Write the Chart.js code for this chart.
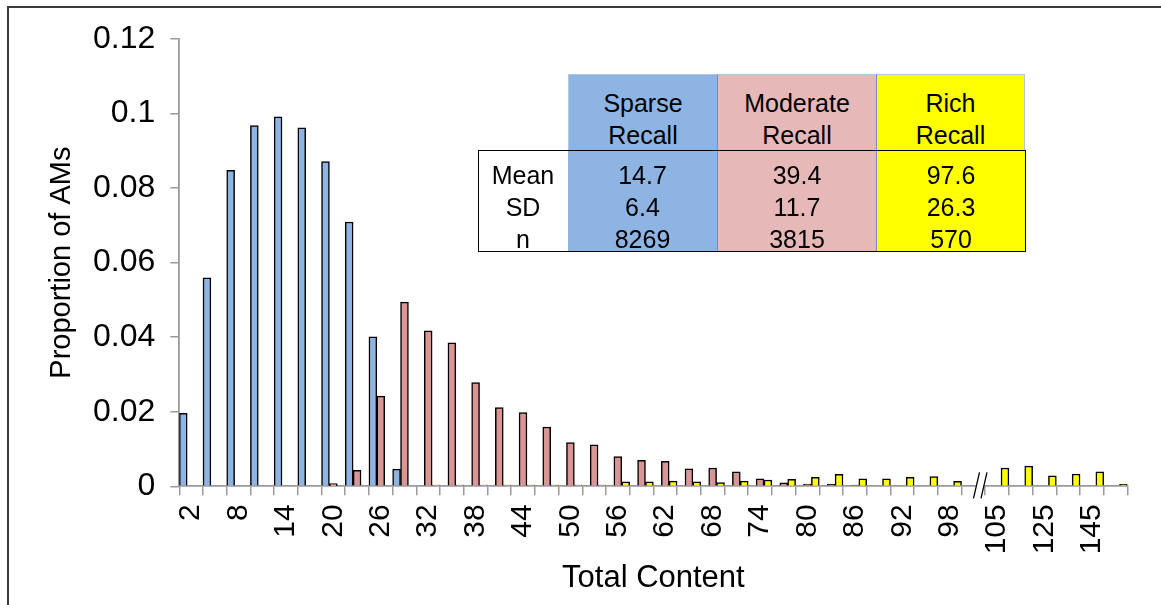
<!DOCTYPE html>
<html>
<head>
<meta charset="utf-8">
<script src="https://cdn.jsdelivr.net/npm/chart.js@4"></script>
<style>
  html, body { margin: 0; padding: 0; background: #fff; }
  #wrap { position: relative; width: 1161px; height: 605px; overflow: hidden; font-family: "Liberation Sans", Arial, sans-serif; }
  #frame { position: absolute; left: 7px; top: 6px; width: 1300px; height: 700px; border-left: 2px solid #3a3a3a; border-top: 2px solid #3a3a3a; box-sizing: border-box; pointer-events: none; }
  #cv { position: absolute; left: 0; top: 0; }
  .cell { position: absolute; box-sizing: border-box; text-align: center; font-size: 25px; line-height: 32px; color: #000; }
  .hdr { top: 74px; height: 77px; padding-top: 12px; border-top: 1px solid #b5c5dc; }
  .dat { top: 151px; height: 100px; padding-top: 8px; }
  .blue { background: #8db4e2; }
  .pink { background: #e6b9b8; }
  .yel { background: #ffff00; }
  .div { border-left: 1px solid #6f8fc4; }
  #box { position: absolute; left: 478px; top: 150px; width: 548px; height: 102px; border: 1.5px solid #000; box-sizing: border-box; pointer-events: none; }
</style>
</head>
<body>
<div id="wrap">
  <canvas id="cv" width="1161" height="605"></canvas>
  <div id="tbl"></div>
  <div id="box"></div>
  <div id="frame"></div>
</div>
<script>
// ---- data ----
const categories = ['2','5','8','11','14','17','20','23','26','29','32','35','38','41','44','47','50','53','56','59','62','65','68','71','74','77','80','83','86','89','92','95','98','101','105','115','125','135','145','155'];
const sparse = [0.0196,0.0559,0.0848,0.0968,0.0991,0.0962,0.0871,0.0709,0.0401,0.0046,null,null,null,null,null,null,null,null,null,null,null,null,null,null,null,null,null,null,null,null,null,null,null,null,null,null,null,null,null,null];
const moderate = [null,null,null,null,null,null,0.0007,0.0043,0.0242,0.0494,0.0417,0.0385,0.0278,0.0211,0.0198,0.0159,0.0117,0.0111,0.0080,0.0070,0.0067,0.0047,0.0049,0.0039,0.0020,0.0009,0.0006,0.0005,0.0003,null,null,null,null,null,null,null,null,null,null,null];
const rich = [null,null,null,null,null,null,null,null,null,null,0.0003,0.0003,0.0003,0.0003,0.0003,0.0003,0.0003,0.0003,0.0012,0.0012,0.0014,0.0012,0.0010,0.0014,0.0017,0.0019,0.0024,0.0032,0.0020,0.0020,0.0024,0.0026,0.0013,null,0.0049,0.0054,0.0028,0.0033,0.0039,0.0005];
const yTicks = [0, 0.02, 0.04, 0.06, 0.08, 0.1, 0.12];
const seriesNames = ['Sparse Recall', 'Moderate Recall', 'Rich Recall'];
const statRows = ['Mean', 'SD', 'n'];
const statSparse = ['14.7', '6.4', '8269'];
const statModerate = ['39.4', '11.7', '3815'];
const statRich = ['97.6', '26.3', '570'];
const breakAfterIndex = 33;

// ---- table ----
(function buildTable() {
  const t = document.getElementById('tbl');
  const cols = [
    {cls: 'blue', left: 568, width: 149, name: seriesNames[0], vals: statSparse},
    {cls: 'pink div', left: 717, width: 159, name: seriesNames[1], vals: statModerate},
    {cls: 'yel div', left: 876, width: 149, name: seriesNames[2], vals: statRich}
  ];
  cols.forEach((c, i) => {
    const h = document.createElement('div');
    h.className = 'cell hdr ' + c.cls;
    h.style.left = c.left + 'px'; h.style.width = c.width + 'px';
    if (i === 0) h.style.borderLeft = '1px solid #b5c5dc';
    if (i === 2) h.style.borderRight = '1px solid #b5c5dc';
    h.innerHTML = c.name.split(' ').join('<br>');
    t.appendChild(h);
    const d = document.createElement('div');
    d.className = 'cell dat ' + c.cls;
    d.style.left = c.left + 'px'; d.style.width = c.width + 'px';
    d.innerHTML = c.vals.join('<br>');
    t.appendChild(d);
  });
  const l = document.createElement('div');
  l.className = 'cell dat';
  l.style.left = '478px'; l.style.width = '90px'; l.style.background = '#fff';
  l.innerHTML = statRows.join('<br>');
  t.appendChild(l);
})();

// ---- chart ----
const FONT = '"Liberation Sans", Arial, sans-serif';
const breakPlugin = {
  id: 'axisBreak',
  afterDraw(chart) {
    const xs = chart.scales.x;
    const w = xs.getPixelForValue(1) - xs.getPixelForValue(0);
    const cx = xs.getPixelForValue(breakAfterIndex) + 0.3 * w;
    const y0 = chart.chartArea.bottom;
    const ctx = chart.ctx;
    ctx.save();
    ctx.fillStyle = '#fff';
    ctx.beginPath();
    ctx.moveTo(cx - 7, y0 + 12); ctx.lineTo(cx - 1, y0 - 14);
    ctx.lineTo(cx + 6.5, y0 - 14); ctx.lineTo(cx + 0.5, y0 + 12);
    ctx.closePath(); ctx.fill();
    ctx.strokeStyle = '#000'; ctx.lineWidth = 1.3;
    ctx.beginPath();
    ctx.moveTo(cx - 7, y0 + 12); ctx.lineTo(cx - 1, y0 - 14);
    ctx.moveTo(cx + 0.5, y0 + 12); ctx.lineTo(cx + 6.5, y0 - 14);
    ctx.stroke();
    ctx.restore();
  }
};

new Chart(document.getElementById('cv'), {
  type: 'bar',
  data: {
    labels: categories,
    datasets: [
      {label: seriesNames[0], data: sparse, backgroundColor: '#8db4e2', borderColor: '#000', borderWidth: 1.5},
      {label: seriesNames[1], data: moderate, backgroundColor: '#d99694', borderColor: '#000', borderWidth: 1.5},
      {label: seriesNames[2], data: rich, backgroundColor: '#ffff00', borderColor: '#000', borderWidth: 1.5}
    ]
  },
  options: {
    responsive: false,
    animation: false,
    devicePixelRatio: 1,
    layout: {padding: {left: 0, right: 32, top: 39, bottom: 0}},
    plugins: {legend: {display: false}, tooltip: {enabled: false}},
    datasets: {bar: {categoryPercentage: 1, barPercentage: 1}},
    scales: {
      x: {
        grid: {display: true, drawOnChartArea: false, drawTicks: true, tickLength: 9, color: '#9a9a9a', lineWidth: 1.5, offset: true},
        border: {display: true, color: '#9a9a9a', width: 1.8},
        ticks: {
          autoSkip: false, maxRotation: 90, minRotation: 90, padding: 9,
          color: '#000', font: {family: FONT, size: 30},
          callback: (v, i) => (i % 2 === 0 ? categories[i] : '')
        },
        title: {display: true, text: 'Total Content', color: '#000', font: {family: FONT, size: 31, lineHeight: 1.2}, padding: {top: 0, bottom: 8}},
        afterFit: s => { s.height = 605 - 486.3; }
      },
      y: {
        min: 0, max: 0.12,
        afterBuildTicks: s => { s.ticks = yTicks.map(v => ({value: v})); },
        grid: {display: true, drawOnChartArea: false, drawTicks: true, tickLength: 9, color: '#9a9a9a', lineWidth: 1.5},
        border: {display: true, color: '#9a9a9a', width: 1.8},
        ticks: {
          padding: 15, color: '#000', font: {family: FONT, size: 32},
          callback: v => String(+(+v).toFixed(2))
        },
        title: {display: true, text: 'Proportion of AMs', color: '#000', font: {family: FONT, size: 29, lineHeight: 1.2}, padding: {top: 45, bottom: 0}},
        afterFit: s => { s.width = 179.3; }
      }
    }
  },
  plugins: [breakPlugin]
});
</script>
</body>
</html>
